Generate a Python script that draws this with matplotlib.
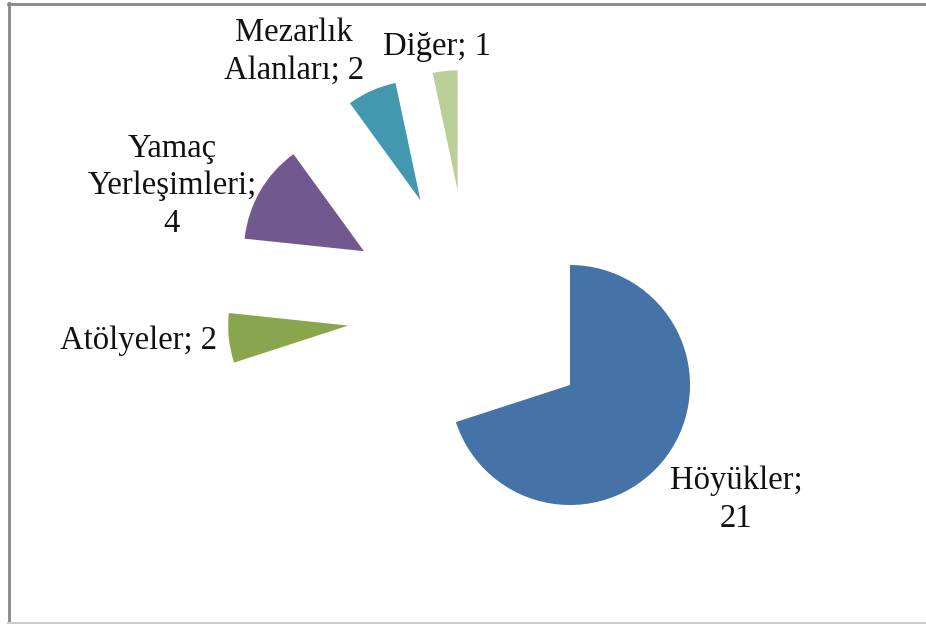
import matplotlib
matplotlib.use('Agg')
import matplotlib.pyplot as plt
from matplotlib.lines import Line2D

# data
categories = ['Höyükler', 'Atölyeler', 'Yamaç Yerleşimleri', 'Mezarlık Alanları', 'Diğer']
values = [21, 2, 4, 2, 1]
label_texts = ['Höyükler;\n21', 'Atölyeler; 2', 'Yamaç\nYerleşimleri;\n4',
               'Mezarlık\nAlanları; 2', 'Diğer; 1']
colors = ['#4572A7', '#89A54E', '#71588F', '#4298AF', '#B9CF97']

# label centres in pixel coords (x, y from top)
label_pos = [(736, 500), (138, 341), (172, 186), (294, 52), (437, 47)]

W, H = 926, 624
fig = plt.figure(figsize=(W / 100, H / 100), dpi=100)
ax = fig.add_axes([0, 0, 1, 1])

radius = 120
ax.pie(values, colors=colors, startangle=90, counterclock=False,
       radius=radius, center=(470.5, H - 312.7),
       explode=[123] * len(values),
       wedgeprops=dict(linewidth=0))

# pie resets the limits, so set them afterwards
ax.set_xlim(0, W)
ax.set_ylim(0, H)
ax.set_aspect('equal')
ax.axis('off')

for txt, (x, y) in zip(label_texts, label_pos):
    ax.text(x, H - y, txt, ha='center', va='center', multialignment='center',
            fontsize=23.5, family='Liberation Serif', color='#111111',
            linespacing=1.3)

# chart border
fig.add_artist(Line2D([8.5 / W, 8.5 / W], [1 - 3 / H, 1 - 622 / H],
                      transform=fig.transFigure, color='#888888', lw=2))
fig.add_artist(Line2D([8 / W, 1], [1 - 3.5 / H, 1 - 3.5 / H],
                      transform=fig.transFigure, color='#888888', lw=2))
fig.add_artist(Line2D([8 / W, 1], [1 - 622.5 / H, 1 - 622.5 / H],
                      transform=fig.transFigure, color='#cccccc', lw=1.5))

fig.savefig('out.png', dpi=100)
